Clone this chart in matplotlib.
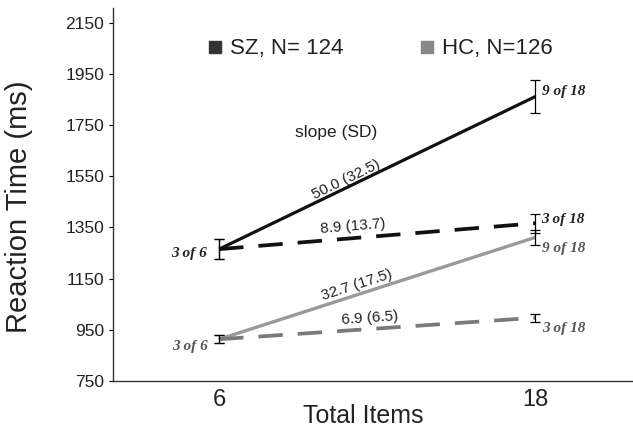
import numpy as np
import matplotlib
matplotlib.use("Agg")
import matplotlib.pyplot as plt

plt.rcParams['font.family'] = ['Liberation Sans', 'DejaVu Sans']

# set size on the x axis
items = [6, 18]

# mean RT (ms) and error bars, per group and condition
sz_9 = [1265, 1861]
sz_3 = [1265, 1366]
hc_9 = [913, 1311]
hc_3 = [913, 997]
sz_9_err = [40, 66]
sz_3_err = [40, 38]
hc_9_err = [15, 29]
hc_3_err = [15, 16]

slope_labels = ["50.0 (32.5)", "8.9 (13.7)", "32.7 (17.5)", "6.9 (6.5)"]
point_labels = ["3 of 6", "9 of 18", "3 of 18"]
legend_labels = ["SZ, N= 124", "HC, N=126"]

fig = plt.figure(figsize=(6.33, 4.3), dpi=100)
ax = fig.add_axes([0.178, 0.114, 0.822, 0.867])
ax.set_xlim(1.96, 21.7)
ax.set_ylim(750, 2206)

sz_col = "#111111"
hc_sol = "#9a9a9a"
hc_dash = "#7a7a7a"

ax.plot(items, sz_9, color=sz_col, lw=2.3, solid_capstyle='butt')
ax.plot(items, sz_3, color=sz_col, lw=2.7, dashes=(6.5, 4))
ax.plot(items, hc_9, color=hc_sol, lw=2.4, solid_capstyle='butt')
ax.plot(items, hc_3, color=hc_dash, lw=2.7, dashes=(6.5, 4))

for y, e in [(sz_9, sz_9_err), (sz_3, sz_3_err), (hc_9, hc_9_err), (hc_3, hc_3_err)]:
    ax.errorbar(items, y, yerr=e, fmt='none', ecolor='black', elinewidth=0.9,
                capsize=3.5, capthick=0.9, zorder=3)

# slope (SD) labels, rotated along their lines
lines = [(sz_9, 10.82, 1535), (sz_3, 11.09, 1353), (hc_9, 11.23, 1125), (hc_3, 11.73, 995)]
for (y, tx, ty), lab in zip(lines, slope_labels):
    p = ax.transData.transform([(items[0], y[0]), (items[1], y[1])])
    ang = np.degrees(np.arctan2(p[1, 1] - p[0, 1], p[1, 0] - p[0, 0]))
    ax.text(tx, ty, lab, rotation=ang, rotation_mode='anchor', ha='center',
            va='center', fontsize=11, color='#222222')

ax.text(10.44, 1719, "slope (SD)", ha='center', va='center', fontsize=12.5, color='#222222')

# condition labels at the points
serif = dict(family=['Liberation Serif', 'DejaVu Serif'], style='italic',
             weight='bold', fontsize=11)
ax.annotate(point_labels[0], (items[0], sz_9[0]), xytext=(-8.5, -3), textcoords='offset points',
            ha='right', va='center', color='#222222', **serif)
ax.annotate(point_labels[0], (items[0], hc_9[0]), xytext=(-8, -5), textcoords='offset points',
            ha='right', va='center', color='#555555', **serif)
ax.annotate(point_labels[1], (items[1], sz_9[1]), xytext=(4.5, 3.5), textcoords='offset points',
            ha='left', va='center', color='#222222', **serif)
ax.annotate(point_labels[2], (items[1], sz_3[1]), xytext=(4, 3), textcoords='offset points',
            ha='left', va='center', color='#222222', **serif)
ax.annotate(point_labels[1], (items[1], hc_9[1]), xytext=(5, -8), textcoords='offset points',
            ha='left', va='center', color='#555555', **serif)
ax.annotate(point_labels[2], (items[1], hc_3[1]), xytext=(5, -7.5), textcoords='offset points',
            ha='left', va='center', color='#555555', **serif)

# legend squares and text
ax.scatter([0.1976], [0.896], marker='s', s=80, color='#333333', transform=ax.transAxes, clip_on=False)
ax.scatter([0.604], [0.896], marker='s', s=80, color='#888888', transform=ax.transAxes, clip_on=False)
ax.text(0.2254, 0.893, legend_labels[0], transform=ax.transAxes, ha='left', va='center',
        fontsize=16, color='#222222')
ax.text(0.633, 0.893, legend_labels[1], transform=ax.transAxes, ha='left', va='center',
        fontsize=16, color='#222222')

ax.set_yticks(np.arange(750, 2151, 200))
ax.set_xticks(items)
ax.tick_params(axis='y', direction='out', length=3, width=0.8, labelsize=12.5,
               labelcolor='#222222', pad=3)
ax.tick_params(axis='x', length=0, labelsize=17, labelcolor='#222222', pad=6)

for s in ['top', 'right']:
    ax.spines[s].set_visible(False)
for s in ['left', 'bottom']:
    ax.spines[s].set_linewidth(1.0)
    ax.spines[s].set_color('#333333')

ax.set_ylabel("Reaction Time (ms)", fontsize=21, color='#222222')
ax.yaxis.set_label_coords(-0.153, 0.468)
ax.set_xlabel("Total Items", fontsize=18, color='#222222')
ax.xaxis.set_label_coords(0.481, -0.062)

fig.savefig("out.png", dpi=100)
